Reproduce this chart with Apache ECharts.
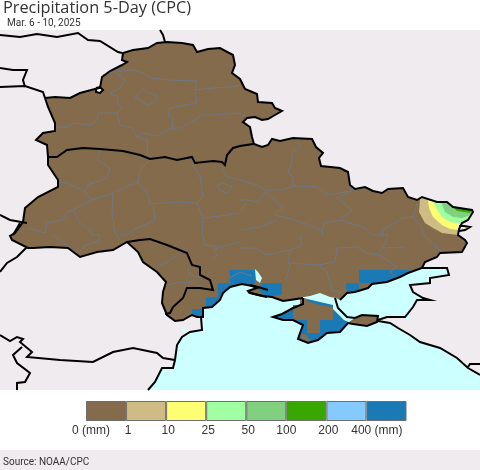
<!DOCTYPE html>
<html><head><meta charset="utf-8">
<style>html,body{margin:0;padding:0;background:#fff}#c{width:480px;height:470px}</style>
<script src="https://cdn.jsdelivr.net/npm/echarts@6/dist/echarts.min.js"></script>
</head><body><div id="c"></div>
<script>
// ---- text and legend data
const titleText = 'Precipitation 5-Day (CPC)';
const dateText = 'Mar. 6 - 10, 2025';
const sourceText = 'Source: NOAA/CPC';
const legendTicks = ['0 (mm)', '1', '10', '25', '50', '100', '200', '400 (mm)'];
const legendColors = ['#846B4B', '#CFBC85', '#FFFF73', '#A0FFA0', '#80D080', '#38A800', '#85CAFF', '#1A7AB5'];
const legendBins = ['0-1', '1-10', '10-25', '25-50', '50-100', '100-200', '200-400', '400+'];

// ---- map grid: source raster cells to degrees
const lon0 = 21.71, lat0 = 52.66, cellsPerLon = 25.6, cellsPerLat = 37.75, rowOrigin = 30;
const lonLat = p => [lon0 + p[0] / cellsPerLon, lat0 - (p[1] - rowOrigin) / cellsPerLat];

// ---- filled areas (raster col,row)
const frame = [[0,30],[480,30],[480,390],[0,390]];
const sea = [[148,390],[155,382],[162,368],[173,368],[175,360],[177,345],[182,337],[190,332],[202,330],[203,317],[203,280],[340,280],[400,270],[422,266],[447,268],[449,275],[430,278],[430,283],[410,285],[413,292],[423,298],[430,300],[417,300],[413,307],[405,317],[387,317],[378,320],[390,323],[398,328],[410,335],[420,342],[440,348],[457,358],[468,368],[480,375],[480,390]];
const lagoonDot = [[182,327],[185,327],[185,332],[182,332]];
const bayMouth = [[405,313],[409,313],[409,320],[405,320]];
const limanSliver = [[255,269],[258,272],[262,278],[260,283],[256,280]];
const dryLandNorth = [[45,98],[55,97],[70,98],[80,93],[95,89],[100,88],[102,77],[110,71],[122,65],[127,62],[122,60],[123,53],[133,50],[148,48],[157,43],[167,42],[182,43],[193,45],[197,52],[208,49],[220,48],[233,55],[235,65],[232,73],[240,79],[245,89],[257,94],[258,102],[272,103],[275,108],[282,111],[275,115],[268,119],[262,120],[255,117],[247,118],[243,122],[250,127],[252,137],[254,144],[262,147],[268,145],[272,139],[280,141],[293,138],[312,139],[316,147],[323,153],[319,158],[321,166],[340,168],[348,172],[350,185],[355,189],[365,187],[373,191],[382,193],[388,189],[403,188],[408,197],[417,200],[422,197],[437,202],[447,202],[453,207],[472,210],[473,212],[468,220],[462,223],[459,229],[458,235],[465,240],[467,243],[462,252],[440,253],[437,257],[425,262],[422,268],[408,273],[400,277],[387,282],[372,284],[368,288],[355,292],[347,293],[340,300],[336,298],[330,297],[320,293],[310,296],[304,297],[303,298],[290,300],[283,301],[272,297],[263,296],[250,293],[248,291],[257,288],[252,286],[242,284],[230,287],[223,293],[220,300],[212,307],[203,308],[203,317],[197,317],[192,315],[183,320],[175,321],[167,315],[162,303],[163,292],[166,282],[157,272],[143,262],[138,252],[127,242],[113,250],[97,252],[80,257],[68,248],[50,247],[33,248],[28,248],[12,240],[10,236],[15,233],[23,222],[25,208],[38,197],[58,187],[58,180],[48,165],[48,157],[47,145],[36,140],[43,133],[55,131],[55,123],[48,107]];
const enclave = [[96,88],[100,87],[103,90],[100,93],[96,92]];
const crimea = [[303,298],[333,305],[333,309],[344,320],[353,324],[348,323],[340,332],[327,333],[318,340],[308,343],[298,339],[300,333],[303,325],[293,320],[283,320],[273,317],[282,314],[293,308],[303,304]];
const crimeaDryCore = [[300,298],[304,298],[310,302],[320,305],[333,307],[333,320],[320,320],[320,333],[307,333],[307,320],[293,320],[293,305],[300,305]];
const crimeaDrySouth = [[300,333],[307,335],[310,341],[302,342]];
const kerch = [[348,323],[355,318],[362,315],[378,316],[377,322],[367,326],[353,324]];
const band1to10 = [[420,199],[422,197],[437,202],[447,202],[453,207],[472,210],[473,212],[468,220],[462,223],[459,229],[458,235],[442,233],[433,228],[425,223],[419,212]];
const band10to25 = [[428,200],[437,202],[447,202],[453,207],[472,210],[473,212],[468,220],[462,223],[459,230],[450,229],[442,225],[433,217],[429,208]];
const band10to25Spot = [[464,227],[468,227],[468,229],[464,229]];
const band25to50 = [[433,201],[437,202],[447,202],[453,207],[472,210],[473,212],[468,220],[462,224],[450,222],[442,217],[436,208]];
const band50to100 = [[441,202],[447,202],[453,207],[472,210],[473,212],[468,216],[462,218],[453,217],[445,212]];
const band100to200 = [[452,206],[472,210],[470,213],[457,211]];
const wet1 = [[230,270],[255,270],[255,283],[252,286],[242,284],[232,285],[230,285]];
const wet2 = [[218,283],[232,283],[232,287],[223,293],[220,297],[218,297]];
const wet3 = [[206,297],[220,297],[220,300],[212,307],[206,308]];
const wet4 = [[192,309],[203,309],[203,317],[197,317],[192,315]];
const wet5 = [[262,283],[282,283],[282,295],[272,296],[263,295],[258,288]];
const wet6 = [[359,270],[409,270],[409,273],[400,277],[387,282],[372,283],[359,283]];
const wet7 = [[346,283],[359,283],[359,290],[347,293],[346,293]];

// ---- black borders and coasts
const coastNorthPart = [[45,98],[55,97],[70,98],[80,93],[95,89],[100,88],[102,77],[110,71],[122,65],[127,62],[122,60],[123,53],[133,50],[148,48],[157,43],[167,42],[182,43],[193,45],[197,52],[208,49],[220,48],[233,55],[235,65],[232,73],[240,79],[245,89],[257,94],[258,102],[272,103],[275,108],[282,111],[275,115],[268,119],[262,120],[255,117],[247,118],[243,122],[250,127],[252,137],[254,144],[262,147],[268,145],[272,139],[280,141],[293,138],[312,139],[316,147],[323,153],[319,158],[321,166],[340,168],[348,172],[350,185],[355,189],[365,187],[373,191],[382,193],[388,189],[403,188],[408,197],[417,200],[422,197],[437,202],[447,202],[453,207],[472,210],[473,212],[468,220],[462,223],[459,229],[458,235],[465,240],[467,243],[462,252],[440,253],[437,257],[425,262],[422,268],[408,273],[400,277],[387,282],[372,284],[368,288],[355,292],[347,293],[340,300]];
const coastSouthPart = [[303,298],[290,300],[283,301],[272,297],[263,296],[250,293],[248,291],[257,288],[252,286],[242,284],[230,287],[223,293],[220,300],[212,307],[203,308],[203,317],[197,317],[192,315],[183,320],[175,321],[167,315],[162,303],[163,292],[166,282],[157,272],[143,262],[138,252],[127,242],[113,250],[97,252],[80,257],[68,248],[50,247],[33,248],[28,248],[12,240],[10,236],[15,233],[23,222],[25,208],[38,197],[58,187],[58,180],[48,165],[48,157],[47,145],[36,140],[43,133],[55,131],[55,123],[48,107],[45,98]];
const crimeaCoast = [[303,298],[303,304],[293,308],[282,314],[273,317],[283,320],[293,320],[303,325],[300,333],[298,339],[308,343],[318,340],[327,333],[340,332],[348,323],[353,324],[367,326],[377,322],[378,316],[362,315],[355,318]];
const arabatSpit = [[335,298],[338,308],[347,317],[355,318]];
const dniproEstuary = [[250,285],[258,287],[268,290]];
const tendraSpit = [[248,292],[258,295],[267,297]];
const spotRing = [[459,226],[464,226],[470,227],[465,230],[459,231]];
const enclaveRing = [[96,88],[100,87],[103,90],[100,93],[96,92],[96,88]];
const belarusUkraine = [[48,157],[57,157],[67,150],[83,148],[100,149],[123,151],[140,155],[150,159],[165,157],[177,160],[192,157],[195,163],[213,161],[222,162],[225,165],[227,155],[233,148],[240,146],[253,144]];
const moldova = [[127,242],[140,240],[150,239],[167,245],[187,253],[192,265],[200,267],[200,275],[210,280],[213,290],[200,288],[187,288],[183,298],[173,307],[170,313],[165,314]];
const polandBelarus = [[0,35],[20,37],[37,34],[57,37],[78,33],[88,40],[100,41],[118,52],[122,53]];
const northGap = [[160,30],[163,35],[165,42]];
const westA = [[0,68],[13,70],[27,70],[23,80],[25,87]];
const westB = [[0,87],[25,86],[43,92],[45,98]];
const westC = [[0,215],[10,220],[27,223]];
const westD = [[20,223],[13,235]];
const westE = [[27,247],[17,257],[7,263],[0,272]];
const romaniaSouth = [[0,335],[10,341],[17,337],[23,339],[20,342],[32,352],[27,357],[60,360],[93,362],[113,352],[133,348],[157,353],[163,358],[175,360]];
const romaniaBranch = [[22,347],[13,355],[17,363],[30,373],[25,382],[17,383],[17,390]];
const westSeaCoast = [[201,317],[202,330],[190,332],[182,337],[177,345],[175,360],[173,368],[162,368],[155,382],[148,390]];
const taganrogCoast = [[422,268],[428,268],[447,268],[449,275],[430,278],[430,283],[410,285],[413,292],[423,298],[430,300],[417,300],[413,307],[405,317],[387,317],[378,320]];
const caucasusCoast = [[378,321],[390,323],[398,328],[410,335],[420,342],[440,348],[457,358],[468,368],[480,375]];
const caucasusBorder = [[468,367],[470,364],[480,364]];
const blackLines = [coastNorthPart, coastSouthPart, crimeaCoast, arabatSpit, dniproEstuary, tendraSpit, spotRing, enclaveRing, belarusUkraine, moldova, polandBelarus, northGap, westA, westB, westC, westD, westE, romaniaSouth, romaniaBranch, westSeaCoast, taganrogCoast, caucasusCoast, caucasusBorder];

// ---- grey admin boundaries
const adminLines = [
 [[103,75],[115,71],[133,70],[143,73],[150,78],[170,80],[197,81],[195,90],[213,88],[230,87],[240,85]],
 [[195,90],[197,102],[187,105],[170,108],[168,115],[173,118],[172,128],[180,128],[203,115],[217,115],[240,113],[248,118]],
 [[115,72],[125,80],[120,88],[110,93],[118,97],[117,103],[122,108],[117,113],[98,113],[97,120],[90,125],[73,123],[68,127],[55,127]],
 [[117,113],[120,125],[132,128],[137,137],[147,140],[148,157]],
 [[137,137],[143,133],[157,136],[172,128]],
 [[135,98],[143,89],[148,93],[157,95],[157,100],[147,105],[140,100],[135,98]],
 [[100,150],[97,160],[110,168],[107,178],[87,185],[85,192],[68,183],[58,182]],
 [[85,192],[92,200],[73,210],[67,212],[63,220],[47,223],[45,233],[28,228]],
 [[92,200],[113,193],[130,185],[138,183],[140,170],[150,160]],
 [[113,193],[112,213],[115,233],[120,240]],
 [[73,210],[80,223],[90,230],[92,235],[100,235]],
 [[138,183],[147,193],[150,204],[180,202],[197,203],[203,218],[227,215],[240,213]],
 [[153,205],[155,220],[133,230],[127,235],[120,235]],
 [[192,163],[200,177],[203,197],[197,203]],
 [[222,167],[227,177],[240,180],[257,185],[265,190],[283,190],[293,186],[317,187],[328,195],[340,193],[355,190]],
 [[217,185],[223,183],[232,187],[227,193],[220,190],[217,185]],
 [[203,218],[202,233],[205,245],[218,247]],
 [[298,142],[300,147],[292,153],[292,163],[288,172],[293,177],[293,186]],
 [[265,190],[282,208],[275,215],[295,220],[322,230],[323,235]],
 [[353,190],[337,198],[352,210],[340,220],[325,223],[322,230]],
 [[340,220],[363,227],[372,235],[388,235],[385,245],[378,253]],
 [[417,203],[413,217],[403,218],[383,230],[382,235]],
 [[413,217],[422,227],[423,235],[435,245],[443,253]],
 [[240,200],[247,200],[258,202],[265,192]],
 [[240,210],[247,203]],
 [[240,230],[260,227],[277,220]],
 [[300,235],[302,245],[290,250],[288,262],[290,265],[287,277],[285,280]],
 [[240,248],[255,248],[267,255],[280,252],[290,250]],
 [[290,263],[318,265],[327,272],[332,290],[342,293]],
 [[337,248],[335,262],[318,265]],
 [[337,248],[357,247],[367,253],[380,255],[397,267],[390,272],[397,278]],
 [[383,248],[405,247]],
 [[53,235],[70,247],[78,253]],
 [[80,253],[85,245],[98,242],[100,235]],
 [[240,242],[220,247],[213,250],[217,255],[213,258]],
 [[157,267],[168,262],[177,255],[185,248]],
 [[167,285],[177,283],[188,282],[207,288]],
 [[188,268],[190,275],[200,277]],
 [[230,278],[240,272],[252,276]],
 [[302,337],[310,340]]
];

// ---- build map
const areas = [
 ['frame', [frame], '#EFEBEF'],
 ['sea', [sea, lagoonDot, bayMouth], '#CCFFFF'],
 ['dry', [dryLandNorth, kerch], legendColors[0]],
 ['wet400', [crimea, wet1, wet2, wet3, wet4, wet5, wet6, wet7], legendColors[7]],
 ['dryCrimea', [crimeaDryCore, crimeaDrySouth, kerch], legendColors[0]],
 ['b1', [band1to10], legendColors[1]],
 ['b10', [band10to25, band10to25Spot], legendColors[2]],
 ['b25', [band25to50], legendColors[3]],
 ['b50', [band50to100], legendColors[4]],
 ['b100', [band100to200], legendColors[5]],
 ['liman', [limanSliver], '#CCFFFF'],
 ['enclave', [enclave], '#FFFFFF']
];
const closeRing = r => { const q = r.map(lonLat); q.push(q[0]); return q; };
const geoJson = { type: 'FeatureCollection', features: areas.map(a => ({
  type: 'Feature', properties: { name: a[0] },
  geometry: { type: 'MultiPolygon', coordinates: a[1].map(r => [closeRing(r)]) }
})) };
echarts.registerMap('region', geoJson);

const mapTop = 30, mapHeight = 360, mapWidth = 480;
const spanLon = mapWidth / cellsPerLon, spanLat = mapHeight / cellsPerLat;
const chart = echarts.init(document.getElementById('c'), null, { renderer: 'canvas' });
const uiFont = '"Liberation Sans", Arial, sans-serif';
const richLabel = left => ({ padding: [0, 0, 0, left], color: '#333', fontFamily: uiFont, fontSize: 12 });

chart.setOption({
  animation: false,
  backgroundColor: '#fff',
  title: [
    { text: titleText, left: 3, top: 0, padding: 0, textStyle: { fontFamily: '"Open Sans"', fontSize: 16.3, fontWeight: 'normal', color: '#333' } },
    { text: dateText, left: 7, top: 18, padding: 0, textStyle: { fontFamily: 'Roboto', fontSize: 10, fontWeight: 'normal', color: '#333' } },
    { text: sourceText, left: 3, top: 457, padding: 0, textStyle: { fontFamily: 'Roboto', fontSize: 10, fontWeight: 'normal', color: '#333' } }
  ],
  graphic: [{ type: 'rect', shape: { x: 0, y: 450, width: 480, height: 20 }, style: { fill: '#EFEBEF' }, z: -1, silent: true }],
  geo: {
    map: 'region', silent: true, roam: false,
    left: 0, top: mapTop, width: mapWidth, height: mapHeight,
    aspectScale: (mapWidth / mapHeight) * (spanLat / spanLon),
    boundingCoords: [[lon0, lat0], [lon0 + spanLon, lat0 - spanLat]],
    label: { show: false },
    itemStyle: { borderWidth: 0, areaColor: 'transparent' },
    regions: areas.map(a => ({ name: a[0], itemStyle: { areaColor: a[2], borderWidth: 0, borderColor: a[2] } }))
  },
  grid: { left: 86, top: 401, width: 320.5, height: 20, containLabel: false },
  xAxis: {
    type: 'value', min: 0, max: 8, interval: 1,
    axisLine: { show: false }, axisTick: { show: false }, splitLine: { show: false },
    axisLabel: {
      margin: 4, color: '#333', fontFamily: uiFont, fontSize: 12,
      formatter: v => {
        const t = legendTicks[v];
        if (t === undefined) return '';
        if (v === 0) return '{a|' + t + '}';
        if (v === 7) return '{b|' + t + '}';
        if (v === 5) return t;
        return '{c|' + t + '}';
      },
      rich: { a: richLabel(10), b: richLabel(21), c: richLabel(4) }
    }
  },
  yAxis: { type: 'category', data: ['bar'], show: false },
  series: [
    { type: 'lines', coordinateSystem: 'geo', polyline: true, silent: true, z: 3,
      lineStyle: { color: '#6F7885', width: 1, opacity: 1, curveness: 0 },
      data: adminLines.map(l => ({ coords: l.map(lonLat) })) },
    { type: 'lines', coordinateSystem: 'geo', polyline: true, silent: true, z: 4,
      lineStyle: { color: '#000', width: 2, opacity: 1, curveness: 0 },
      data: blackLines.map(l => ({ coords: l.map(lonLat) })) }
  ].concat(legendBins.map((n, i) => ({
    type: 'bar', name: n, stack: 'legend', barWidth: '100%', silent: true, data: [1],
    itemStyle: { color: legendColors[i], borderColor: '#6E6E6E', borderWidth: 1 }
  })))
});
</script></body></html>
